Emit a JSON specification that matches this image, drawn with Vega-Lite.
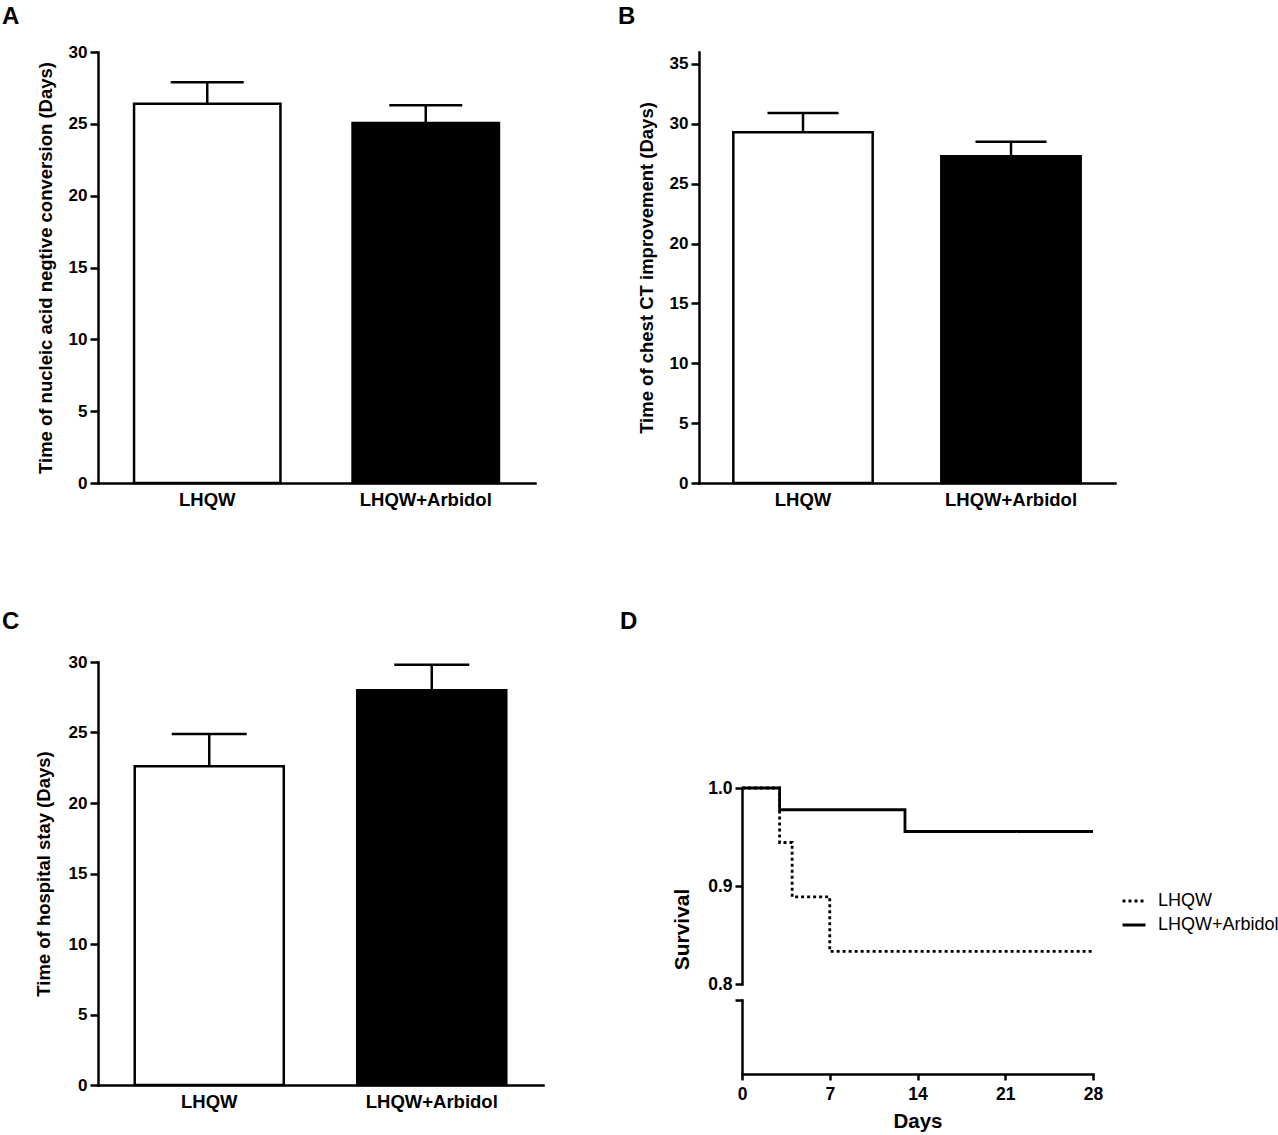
{
  "$schema": "https://vega.github.io/schema/vega-lite/v6.json",
  "padding": {"top": 5, "left": 2, "right": 0, "bottom": 0},
  "background": "white",
  "config": {
    "view": {"stroke": null},
    "font": "Liberation Sans",
    "title": {"fontSize": 24, "fontWeight": "bold", "anchor": "start", "frame": "group", "color": "black", "font": "Liberation Sans", "baseline": "alphabetic"},
    "axis": {
      "grid": false,
      "domainColor": "black",
      "domainWidth": 2.5,
      "domainCap": "square",
      "tickColor": "black",
      "tickWidth": 2.5,
      "labelColor": "black",
      "labelFont": "Liberation Sans",
      "labelFontWeight": "bold",
      "labelFlush": false,
      "titleColor": "black",
      "titleFont": "Liberation Sans",
      "titleFontWeight": "bold"
    },
    "axisY": {"tickSize": 8, "labelPadding": 3, "labelFontSize": 17, "titleFontSize": 18.5, "titlePadding": 13},
    "axisBand": {"ticks": false, "labelPadding": 7, "labelFontSize": 18.5, "labelAngle": 0, "title": null}
  },
  "resolve": {"scale": {"strokeDash": "independent"}, "legend": {"strokeDash": "independent"}},
  "datasets": {
    "bars": [
      {"panel": "A", "group": "LHQW", "mean": 26.4, "upper": 27.9},
      {"panel": "A", "group": "LHQW+Arbidol", "mean": 25.05, "upper": 26.3},
      {"panel": "B", "group": "LHQW", "mean": 29.3, "upper": 30.9},
      {"panel": "B", "group": "LHQW+Arbidol", "mean": 27.3, "upper": 28.5},
      {"panel": "C", "group": "LHQW", "mean": 22.6, "upper": 24.9},
      {"panel": "C", "group": "LHQW+Arbidol", "mean": 28.0, "upper": 29.8}
    ],
    "survival": [
      {"group": "LHQW", "day": 0, "survival": 1.0},
      {"group": "LHQW", "day": 3, "survival": 0.9444},
      {"group": "LHQW", "day": 4, "survival": 0.8889},
      {"group": "LHQW", "day": 7, "survival": 0.8333},
      {"group": "LHQW", "day": 28, "survival": 0.8333},
      {"group": "LHQW+Arbidol", "day": 0, "survival": 1.0},
      {"group": "LHQW+Arbidol", "day": 3, "survival": 0.9778},
      {"group": "LHQW+Arbidol", "day": 13, "survival": 0.9556},
      {"group": "LHQW+Arbidol", "day": 28, "survival": 0.9556}
    ]
  },
  "spacing": 101,
  "vconcat": [
    {
      "spacing": 83,
      "hconcat": [
        {
          "title": {"text": "A", "dx": -96, "offset": 14},
          "width": 437,
          "height": 431,
          "data": {"name": "bars"},
          "transform": [{"filter": "datum.panel == 'A'"}],
          "encoding": {
            "x": {"field": "group", "type": "nominal", "sort": ["LHQW", "LHQW+Arbidol"], "scale": {"paddingInner": 0.33, "paddingOuter": 0.165}}
          },
          "layer": [
            {
              "mark": {"type": "bar", "stroke": "black", "strokeWidth": 2.5},
              "encoding": {
                "y": {"field": "mean", "type": "quantitative", "scale": {"domain": [0, 30]}, "title": "Time of nucleic acid negtive conversion (Days)", "axis": {"values": [0, 5, 10, 15, 20, 25, 30]}},
                "fill": {"field": "group", "type": "nominal", "scale": {"domain": ["LHQW", "LHQW+Arbidol"], "range": ["white", "black"]}, "legend": null}
              }
            },
            {
              "mark": {"type": "rule", "color": "black", "strokeWidth": 2.5},
              "encoding": {
                "y": {"field": "mean", "type": "quantitative", "title": "Time of nucleic acid negtive conversion (Days)"},
                "y2": {"field": "upper"}
              }
            },
            {
              "mark": {"type": "tick", "color": "black", "opacity": 1, "size": 73, "thickness": 2.5},
              "encoding": {
                "y": {"field": "upper", "type": "quantitative", "title": "Time of nucleic acid negtive conversion (Days)"}
              }
            }
          ]
        },
        {
          "title": {"text": "B", "dx": -81, "offset": 23},
          "width": 416,
          "height": 431,
          "data": {"name": "bars"},
          "transform": [{"filter": "datum.panel == 'B'"}],
          "encoding": {
            "x": {"field": "group", "type": "nominal", "sort": ["LHQW", "LHQW+Arbidol"], "scale": {"paddingInner": 0.33, "paddingOuter": 0.165}}
          },
          "layer": [
            {
              "mark": {"type": "bar", "stroke": "black", "strokeWidth": 2.5},
              "encoding": {
                "y": {"field": "mean", "type": "quantitative", "scale": {"domain": [0, 36], "nice": false}, "title": "Time of chest CT improvement (Days)", "axis": {"values": [0, 5, 10, 15, 20, 25, 30, 35]}},
                "fill": {"field": "group", "type": "nominal", "scale": {"domain": ["LHQW", "LHQW+Arbidol"], "range": ["white", "black"]}, "legend": null}
              }
            },
            {
              "mark": {"type": "rule", "color": "black", "strokeWidth": 2.5},
              "encoding": {
                "y": {"field": "mean", "type": "quantitative", "title": "Time of chest CT improvement (Days)"},
                "y2": {"field": "upper"}
              }
            },
            {
              "mark": {"type": "tick", "color": "black", "opacity": 1, "size": 71, "thickness": 2.5},
              "encoding": {
                "y": {"field": "upper", "type": "quantitative", "title": "Time of chest CT improvement (Days)"}
              }
            }
          ]
        }
      ]
    },
    {
      "spacing": 77,
      "resolve": {"scale": {"strokeDash": "independent"}, "legend": {"strokeDash": "independent"}},
      "hconcat": [
        {
          "title": {"text": "C", "dx": -96, "offset": 19},
          "width": 445,
          "height": 423,
          "data": {"name": "bars"},
          "transform": [{"filter": "datum.panel == 'C'"}],
          "encoding": {
            "x": {"field": "group", "type": "nominal", "sort": ["LHQW", "LHQW+Arbidol"], "scale": {"paddingInner": 0.33, "paddingOuter": 0.165}}
          },
          "layer": [
            {
              "mark": {"type": "bar", "stroke": "black", "strokeWidth": 2.5},
              "encoding": {
                "y": {"field": "mean", "type": "quantitative", "scale": {"domain": [0, 30]}, "title": "Time of hospital stay (Days)", "axis": {"values": [0, 5, 10, 15, 20, 25, 30], "titlePadding": 15}},
                "fill": {"field": "group", "type": "nominal", "scale": {"domain": ["LHQW", "LHQW+Arbidol"], "range": ["white", "black"]}, "legend": null}
              }
            },
            {
              "mark": {"type": "rule", "color": "black", "strokeWidth": 2.5},
              "encoding": {
                "y": {"field": "mean", "type": "quantitative", "title": "Time of hospital stay (Days)"},
                "y2": {"field": "upper"}
              }
            },
            {
              "mark": {"type": "tick", "color": "black", "opacity": 1, "size": 75, "thickness": 2.5},
              "encoding": {
                "y": {"field": "upper", "type": "quantitative", "title": "Time of hospital stay (Days)"}
              }
            }
          ]
        },
        {
          "spacing": 16,
          "bounds": "flush",
          "resolve": {"scale": {"strokeDash": "independent"}, "legend": {"strokeDash": "independent"}},
          "vconcat": [
            {
              "title": {"text": "D", "dx": -122, "offset": 28},
              "width": 351,
              "height": 110,
              "data": {"values": []},
              "mark": "point"
            },
            {
              "width": 351,
              "height": 196,
              "data": {"name": "survival"},
              "mark": {"type": "line", "interpolate": "step-after", "color": "black", "strokeWidth": 2.8},
              "encoding": {
                "x": {"field": "day", "type": "quantitative", "scale": {"domain": [0, 28]}, "axis": null},
                "y": {"field": "survival", "type": "quantitative", "scale": {"domain": [0.8, 1.0], "zero": false}, "title": "Survival", "axis": {"values": [0.8, 0.9, 1.0], "format": ".1f", "tickSize": 7, "labelFontSize": 17.5, "titleFontSize": 21, "titlePadding": 15, "titleY": 141}},
                "strokeDash": {
                  "field": "group", "type": "nominal",
                  "scale": {"domain": ["LHQW", "LHQW+Arbidol"], "range": [[3, 3], [1, 0]]},
                  "legend": {"title": null, "orient": "none", "legendX": 379, "legendY": 100, "padding": 0, "labelFontSize": 18, "labelFontWeight": "normal", "labelColor": "black", "labelFont": "Liberation Sans", "symbolType": "stroke", "symbolStrokeColor": "black", "symbolStrokeWidth": 3, "symbolSize": 529, "labelOffset": 11, "rowPadding": 2}
                },
                "order": {"field": "day"}
              }
            },
            {
              "width": 351,
              "height": 74,
              "data": {"name": "survival"},
              "mark": {"type": "line", "interpolate": "step-after", "clip": true, "color": "black", "strokeWidth": 2.8},
              "encoding": {
                "x": {"field": "day", "type": "quantitative", "scale": {"domain": [0, 28]}, "title": "Days", "axis": {"values": [0, 7, 14, 21, 28], "tickSize": 6, "labelPadding": 5, "labelFontSize": 17.5, "titleFontSize": 20.5, "titlePadding": 9}},
                "y": {"field": "survival", "type": "quantitative", "scale": {"domain": [0, 0.7]}, "title": null, "axis": {"values": [0.7], "labels": false, "tickSize": 7}},
                "detail": {"field": "group"},
                "order": {"field": "day"}
              }
            }
          ]
        }
      ]
    }
  ]
}
